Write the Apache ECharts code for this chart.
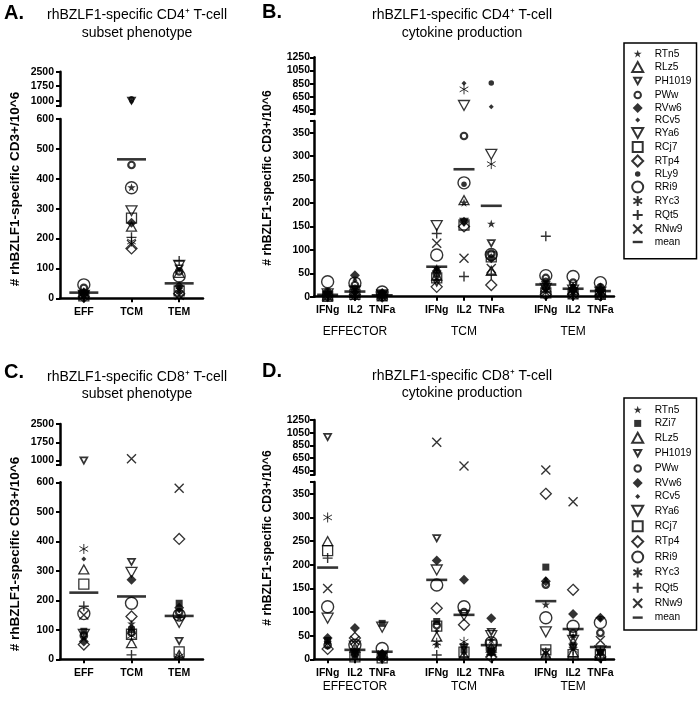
<!DOCTYPE html>
<html><head><meta charset="utf-8">
<script src="https://cdn.jsdelivr.net/npm/echarts@6/dist/echarts.min.js"></script>
<style>html,body{margin:0;padding:0;background:#fff}#c{width:700px;height:701px}</style>
</head><body><div id="c"></div><script>
const FONT = '"Liberation Sans", Arial, sans-serif';

// ---------------- DATA ----------------
const cd4Subjects = ['RTn5','RLz5','PH1019','PWw','RVw6','RCv5','RYa6','RCj7','RTp4','RLy9','RRi9','RYc3','RQt5','RNw9'];
const cd8Subjects = ['RTn5','RZi7','RLz5','PH1019','PWw','RVw6','RCv5','RYa6','RCj7','RTp4','RRi9','RYc3','RQt5','RNw9'];
const subsetCats = ['EFF','TCM','TEM'];
const cytoCats = ['IFNg','IL2','TNFa','','IFNg','IL2','TNFa','','IFNg','IL2','TNFa'];
const cytoSlots = [0,1,2,4,5,6,8,9,10];
const groupNames = ['EFFECTOR','TCM','TEM'];
const groupSlots = [1,5,9];

const subsetTicksLow = [0,100,200,300,400,500,600];
const subsetTicksHigh = [1000,1750,2500];
const cytoTicksLow = [0,50,100,150,200,250,300,350];
const cytoTicksHigh = [450,650,850,1050,1250];

// Panel A: CD4 subset phenotype, rows follow cd4Subjects, columns EFF, TCM, TEM
const cd4SubsetValues = [
  [10, 370, 30],
  [15, 240, 85],
  [5, 1000, 100],
  [35, 446, 90],
  [20, 253, 40],
  [25, 950, 20],
  [10, 293, 110],
  [8, 268, 25],
  [5, 167, 15],
  [20, 1100, 35],
  [45, 370, 75],
  [15, 190, 20],
  [12, 204, 125],
  [10, 180, 10]
];
const cd4SubsetMeans = [19, 465, 50];

// Panel B: CD4 cytokine, columns EFF(IFNg,IL2,TNFa), TCM(...), TEM(...)
const cd4CytoValues = [
  [5, 10, 3, 40, 200, 155, 15, 10, 8],
  [3, 8, 5, 45, 206, 55, 20, 15, 10],
  [2, 15, 4, 30, 160, 114, 25, 12, 12],
  [10, 25, 6, 50, 343, 92, 40, 30, 20],
  [8, 46, 8, 55, 160, 82, 22, 18, 15],
  [4, 35, 5, 35, 855, 500, 30, 25, 25],
  [6, 12, 4, 152, 520, 304, 18, 14, 10],
  [1, 5, 2, 40, 153, 85, 8, 6, 5],
  [2, 4, 1, 21, 150, 25, 5, 5, 3],
  [7, 20, 9, 60, 240, 860, 35, 22, 18],
  [32, 29, 10, 89, 243, 90, 45, 43, 30],
  [3, 6, 3, 58, 764, 283, 12, 8, 6],
  [2, 3, 2, 135, 43, 48, 129, 10, 5],
  [1, 2, 1, 114, 82, 60, 10, 5, 4]
];
const cd4CytoMeans = [4, 11, 3, 64, 272, 194, 26, 17, 12];

// Panel C: CD8 subset phenotype, rows follow cd8Subjects
const cd8SubsetValues = [
  [75, 120, 140],
  [95, 100, 190],
  [305, 55, 15],
  [1000, 330, 62],
  [80, 90, 160],
  [60, 270, 175],
  [340, 110, 165],
  [85, 295, 125],
  [255, 85, 25],
  [50, 145, 408],
  [155, 190, 150],
  [374, 80, 10],
  [180, 15, 5],
  [150, 1080, 580]
];
const cd8SubsetMeans = [226, 213, 147];

// Panel D: CD8 cytokine
const cd8CytoValues = [
  [35, 10, 8, 30, 30, 40, 115, 45, 20],
  [40, 8, 76, 80, 20, 20, 195, 30, 15],
  [250, 25, 10, 48, 10, 25, 10, 15, 8],
  [980, 15, 5, 256, 25, 58, 15, 25, 12],
  [30, 12, 10, 72, 100, 15, 158, 55, 56],
  [45, 66, 12, 209, 168, 87, 165, 96, 88],
  [25, 18, 6, 60, 12, 10, 170, 50, 85],
  [87, 28, 68, 189, 93, 50, 58, 40, 18],
  [230, 5, 3, 70, 15, 30, 20, 10, 10],
  [22, 45, 4, 108, 73, 5, 350, 147, 5],
  [111, 30, 23, 157, 111, 35, 88, 70, 78],
  [300, 14, 7, 35, 37, 20, 15, 20, 15],
  [214, 20, 2, 9, 5, 10, 5, 5, 3],
  [150, 40, 9, 900, 525, 15, 460, 333, 40]
];
const cd8CytoMeans = [194, 20, 16, 168, 94, 30, 123, 64, 26];

// ---------------- STYLE ----------------
const STYLE = {
  RTn5:  {kind:'star', size:9, lsize:8.5, mode:'fill'},
  RZi7:  {kind:'square', size:7, lsize:7, mode:'fill'},
  RLz5:  {kind:'tri', size:10, lsize:11, mode:'hollow', sw:1.3},
  PH1019:{kind:'invtri', size:7, lsize:7, mode:'hollow', sw:1.7},
  PWw:   {kind:'circle', size:6.5, lsize:6.5, mode:'hollow', sw:2.2},
  RVw6:  {kind:'diamond', size:10, lsize:10, mode:'fill'},
  RCv5:  {kind:'diamond', size:5, lsize:5, mode:'fill'},
  RYa6:  {kind:'invtri', size:11, lsize:11, mode:'hollow', sw:1.3},
  RCj7:  {kind:'square', size:10, lsize:10, mode:'hollow', sw:1.3},
  RTp4:  {kind:'diamond', size:11, lsize:11, mode:'hollow', sw:1.3},
  RLy9:  {kind:'circle', size:5.5, lsize:5.5, mode:'fill'},
  RRi9:  {kind:'circle', size:12, lsize:11, mode:'hollow', sw:1.4},
  RYc3:  {kind:'asterisk', size:10, lsize:10, mode:'stroke', sw:1},
  RQt5:  {kind:'plus', size:10, lsize:10, mode:'stroke', sw:1.4},
  RNw9:  {kind:'cross', size:9, lsize:9, mode:'stroke', sw:1.4}
};

function shapePath(kind, cx, cy, s) {
  const h = s / 2, f = v => (+v).toFixed(2);
  switch (kind) {
    case 'star': {
      const pts = [[5,0],[6.12,3.46],[9.76,3.45],[6.81,5.59],[7.94,9.05],[5,6.9],[2.06,9.05],[3.19,5.59],[0.24,3.45],[3.88,3.46]];
      return 'M' + pts.map(p => f(cx + (p[0]-5)*s/10) + ' ' + f(cy + (p[1]-5)*s/10)).join(' L') + ' Z';
    }
    case 'tri': { const t = s*0.45; return `M${f(cx)} ${f(cy-t)} L${f(cx+h)} ${f(cy+t)} L${f(cx-h)} ${f(cy+t)} Z`; }
    case 'invtri': { const t = s*0.45; return `M${f(cx-h)} ${f(cy-t)} L${f(cx+h)} ${f(cy-t)} L${f(cx)} ${f(cy+t)} Z`; }
    case 'circle': return `M${f(cx-h)} ${f(cy)} A${f(h)} ${f(h)} 0 1 0 ${f(cx+h)} ${f(cy)} A${f(h)} ${f(h)} 0 1 0 ${f(cx-h)} ${f(cy)} Z`;
    case 'diamond': return `M${f(cx)} ${f(cy-h)} L${f(cx+h)} ${f(cy)} L${f(cx)} ${f(cy+h)} L${f(cx-h)} ${f(cy)} Z`;
    case 'square': return `M${f(cx-h)} ${f(cy-h)} L${f(cx+h)} ${f(cy-h)} L${f(cx+h)} ${f(cy+h)} L${f(cx-h)} ${f(cy+h)} Z`;
    case 'asterisk': { const a = h*0.866, b = h*0.5; return `M${f(cx)} ${f(cy-h)} L${f(cx)} ${f(cy+h)} M${f(cx-a)} ${f(cy-b)} L${f(cx+a)} ${f(cy+b)} M${f(cx-a)} ${f(cy+b)} L${f(cx+a)} ${f(cy-b)}`; }
    case 'plus': return `M${f(cx)} ${f(cy-h)} L${f(cx)} ${f(cy+h)} M${f(cx-h)} ${f(cy)} L${f(cx+h)} ${f(cy)}`;
    case 'cross': return `M${f(cx-h)} ${f(cy-h)} L${f(cx+h)} ${f(cy+h)} M${f(cx+h)} ${f(cy-h)} L${f(cx-h)} ${f(cy+h)}`;
    case 'bar': return `M${f(cx-h)} ${f(cy-1.2)} L${f(cx+h)} ${f(cy-1.2)} L${f(cx+h)} ${f(cy+1.2)} L${f(cx-h)} ${f(cy+1.2)} Z`;
  }
}
function boxed(kind, w, hh, s) {
  return 'path://M0 0 L0 0 M' + w + ' ' + hh + ' L' + w + ' ' + hh + ' ' + shapePath(kind, w/2, hh/2, s);
}
function itemStyleFor(st) {
  if (st.mode === 'fill') return {color:'#000', borderWidth:0};
  return {color:'rgba(255,255,255,0)', borderColor:'#000', borderWidth:st.sw};
}

// ---------------- BUILD ----------------
const series = [];
function addPanel(subjects, rows, slots, lowX, lowY, highX, highY, lowMax) {
  subjects.forEach((name, si) => {
    const st = STYLE[name];
    const low = [], high = [];
    rows[si].forEach((v, i) => { (v <= lowMax ? low : high).push([slots[i], v]); });
    const base = {
      type:'scatter', name, symbol: boxed(st.kind, st.size, st.size, st.size), symbolSize: st.size,
      itemStyle: itemStyleFor(st), emphasis:{disabled:true}, silent:true, z:2
    };
    series.push(Object.assign({}, base, {xAxisIndex:lowX, yAxisIndex:lowY, data:low}));
    if (high.length) series.push(Object.assign({}, base, {xAxisIndex:highX, yAxisIndex:highY, data:high}));
  });
}
function addMeans(means, slots, xi, yi, w) {
  series.push({type:'scatter', name:'mean', symbol:'rect', symbolSize:[w, 2.6], itemStyle:{color:'#000'},
    emphasis:{disabled:true}, silent:true, z:3, xAxisIndex:xi, yAxisIndex:yi,
    data: means.map((m, i) => [slots[i], m])});
}

addPanel(cd4Subjects, cd4SubsetValues, [0,1,2], 0, 0, 1, 1, 600);
addPanel(cd4Subjects, cd4CytoValues, cytoSlots, 2, 2, 4, 3, 375);
addPanel(cd8Subjects, cd8SubsetValues, [0,1,2], 5, 4, 6, 5, 600);
addPanel(cd8Subjects, cd8CytoValues, cytoSlots, 7, 6, 9, 7, 375);
addMeans(cd4SubsetMeans, [0,1,2], 0, 0, 29);
addMeans(cd4CytoMeans, cytoSlots, 2, 2, 21);
addMeans(cd8SubsetMeans, [0,1,2], 5, 4, 29);
addMeans(cd8CytoMeans, cytoSlots, 7, 6, 21);

const grids = [
  {left:60, top:119, width:143, height:179.3},   // A low
  {left:60, top:71.7, width:143, height:34.3},   // A high
  {left:314, top:121, width:300, height:175.7},  // B low
  {left:314, top:57.3, width:300, height:56.7},  // B high
  {left:60, top:482.3, width:143, height:177},   // C low
  {left:60, top:424, width:143, height:41},      // C high
  {left:314, top:482, width:300, height:177.3},  // D low
  {left:314, top:420, width:300, height:54.8}    // D high
].map(g => Object.assign({containLabel:false, outerBoundsMode:'none'}, g));

const AXIS_LINE = {show:true, onZero:false, lineStyle:{color:'#000', width:2.5}};
function catAxis(gridIndex, data, opts) {
  return Object.assign({
    type:'category', gridIndex, data, boundaryGap:true,
    axisLine: AXIS_LINE,
    axisTick:{show:true, alignWithLabel:true, length:4, lineStyle:{color:'#000', width:2},
      interval:(i) => data[i] !== ''},
    axisLabel:{interval:0, color:'#000', fontWeight:'bold', fontSize:10.5, fontFamily:FONT, margin:8},
    splitLine:{show:false}
  }, opts || {});
}
function hiddenCat(gridIndex, data) {
  return {type:'category', gridIndex, data, boundaryGap:true, show:false};
}
function groupAxis(gridIndex, offset) {
  const d = cytoCats.map(() => '');
  groupSlots.forEach((s, i) => { d[s] = groupNames[i]; });
  return {type:'category', gridIndex, data:d, boundaryGap:true, position:'bottom', offset,
    axisLine:{show:false}, axisTick:{show:false},
    axisLabel:{interval:0, color:'#000', fontSize:12, fontFamily:FONT, margin:8},
    splitLine:{show:false}};
}
function valAxis(gridIndex, min, max, ticks, extraTicks, margin) {
  const o = {
    type:'value', gridIndex, min, max,
    axisLine: AXIS_LINE,
    axisTick:{show:true, length:4, lineStyle:{color:'#000', width:2}, customValues: ticks.concat(extraTicks)},
    axisLabel:{color:'#000', fontWeight:'bold', fontSize:10.5, fontFamily:FONT, margin, customValues: ticks,
      formatter: v => String(v)},
    splitLine:{show:false}
  };
  if (min === 0) o.interval = ticks[1] - ticks[0];
  return o;
}

const xAxes = [
  catAxis(0, subsetCats),             // 0 A low
  hiddenCat(1, subsetCats),           // 1 A high
  catAxis(2, cytoCats),               // 2 B low
  groupAxis(2, 21),                   // 3 B groups
  hiddenCat(3, cytoCats),             // 4 B high
  catAxis(4, subsetCats),             // 5 C low
  hiddenCat(5, subsetCats),           // 6 C high
  catAxis(6, cytoCats),               // 7 D low
  groupAxis(6, 13.4),                 // 8 D groups
  hiddenCat(7, cytoCats)              // 9 D high
];
const yAxes = [
  valAxis(0, 0, 600, subsetTicksLow, [], 6),
  valAxis(1, 725, 2500, subsetTicksHigh, [725], 6),
  valAxis(2, 0, 375, cytoTicksLow, [375], 4),
  valAxis(3, 390, 1250, cytoTicksHigh, [390], 4),
  valAxis(4, 0, 600, subsetTicksLow, [], 6),
  valAxis(5, 820, 2500, subsetTicksHigh, [820], 6),
  valAxis(6, 0, 375, cytoTicksLow, [375], 4),
  valAxis(7, 385, 1250, cytoTicksHigh, [385], 4)
];

function legendFor(names, top, gap, padding) {
  return {
    orient:'vertical', left:624, top, itemWidth:14, itemHeight:12, itemGap:gap,
    padding, borderColor:'#000', borderWidth:1.5, selectedMode:false,
    textStyle:{fontSize:10.2, fontFamily:FONT, color:'#000', lineHeight:12, padding:[0,0,0,5]},
    data: names.map(n => n === 'mean'
      ? {name:n, icon: boxed('bar', 14, 12, 10)}
      : {name:n, icon: boxed(STYLE[n].kind, 14, 12, STYLE[n].lsize)})
  };
}

function txt(x, y, text, font, extra) {
  return Object.assign({type:'text', x, y, silent:true,
    style:{text, fill:'#000', font, textAlign:'center', textVerticalAlign:'middle', align:'center', verticalAlign:'middle'}}, extra || {});
}
const TF = '14px ' + FONT;
const graphics = [
  txt(14, 13.5, 'A.', 'bold 20px ' + FONT),
  txt(137, 15, 'rhBZLF1-specific CD4\u207A T-cell', TF),
  txt(137, 32.7, 'subset phenotype', TF),
  txt(272, 12, 'B.', 'bold 20px ' + FONT),
  txt(462, 15, 'rhBZLF1-specific CD4\u207A T-cell', TF),
  txt(462, 32.7, 'cytokine production', TF),
  txt(14, 372, 'C.', 'bold 20px ' + FONT),
  txt(137, 377, 'rhBZLF1-specific CD8\u207A T-cell', TF),
  txt(137, 394, 'subset phenotype', TF),
  txt(272, 371.5, 'D.', 'bold 20px ' + FONT),
  txt(462, 376, 'rhBZLF1-specific CD8\u207A T-cell', TF),
  txt(462, 393, 'cytokine production', TF),
  txt(15, 189, '# rhBZLF1-specific CD3+/10^6', 'bold 13.5px ' + FONT, {rotation:Math.PI/2}),
  txt(268, 178, '# rhBZLF1-specific CD3+/10^6', 'bold 12.2px ' + FONT, {rotation:Math.PI/2}),
  txt(15, 554, '# rhBZLF1-specific CD3+/10^6', 'bold 13.5px ' + FONT, {rotation:Math.PI/2}),
  txt(268, 538, '# rhBZLF1-specific CD3+/10^6', 'bold 12.2px ' + FONT, {rotation:Math.PI/2})
];

const chart = echarts.init(document.getElementById('c'), null, {renderer:'canvas', width:700, height:701});
chart.setOption({
  animation:false,
  backgroundColor:'#fff',
  grid: grids,
  xAxis: xAxes,
  yAxis: yAxes,
  legend: [
    legendFor(cd4Subjects.concat(['mean']), 43, 0, [5, 5, 10.8, 5.7]),
    legendFor(cd8Subjects.concat(['mean']), 398, 1.4, [6, 5, 6.4, 5.7])
  ],
  graphic: graphics,
  series
});
</script></body></html>
